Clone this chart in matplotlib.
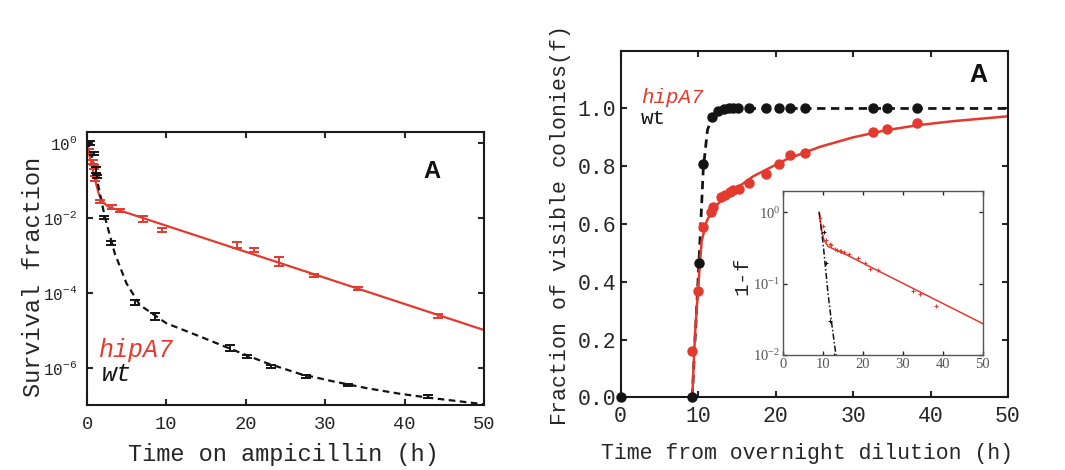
import numpy as np
import matplotlib.pyplot as plt

# monospace (Courier-like) text everywhere, italic f in maths
plt.rcParams['font.family'] = ['Liberation Mono', 'DejaVu Sans']
plt.rcParams['mathtext.fontset'] = 'custom'
plt.rcParams['mathtext.rm'] = 'Liberation Mono'
plt.rcParams['mathtext.it'] = 'Liberation Mono:italic'
plt.rcParams['mathtext.default'] = 'regular'

RED = '#e4392e'
BLK = '#141414'
TXT = '#262626'

# ---------- left panel: survival on ampicillin (values are log10 of survival fraction)
hip_t = [0.3, 0.75, 0.9, 1.0, 1.6, 3.1, 4.2, 7.1, 9.5, 18.9, 21.0, 24.2, 28.6, 34.1, 44.2]
hip_log = [-0.24, -0.51, -0.64, -0.95, -1.57, -1.72, -1.81, -2.04, -2.33, -2.72, -2.86,
           -3.17, -3.54, -3.89, -4.62]
hip_err = [0.06, 0.05, 0.05, 0.06, 0.05, 0.05, 0.04, 0.07, 0.045, 0.08, 0.06, 0.13, 0.035,
           0.05, 0.05]  # half height of error bar, decades

wt_t = [0.34, 0.9, 1.1, 1.2, 2.2, 3.07, 6.0, 8.5, 18.0, 20.1, 23.2, 27.6, 32.9, 43.0]
wt_log = [0.0, -0.28, -0.73, -0.9, -2.0, -2.68, -4.27, -4.64, -5.48, -5.71, -5.97, -6.24,
          -6.46, -6.77]
wt_err = [0.05, 0.04, 0.08, 0.05, 0.04, 0.05, 0.06, 0.09, 0.08, 0.04, 0.05, 0.03, 0.03, 0.03]

hip_fit_t = [0, 0.5, 1.0, 1.5, 2.0, 2.5, 3.0, 4.0, 50]
hip_fit_log = [-0.1, -0.5, -0.98, -1.38, -1.58, -1.68, -1.74, -1.80, -5.0]
wt_fit_t = [0, 0.55, 1.18, 2.23, 3.49, 4.96, 6.64, 10, 14.2, 18.4, 22.6, 26.8, 31, 35.2,
            39.4, 43.6, 50]
wt_fit_log = [0.05, -0.28, -0.91, -1.97, -2.95, -3.75, -4.33, -4.82, -5.17, -5.53, -5.88,
              -6.17, -6.37, -6.55, -6.70, -6.82, -6.98]

surv_ticks = [1, 1e-2, 1e-4, 1e-6]
surv_ticklabels = [r'$\mathregular{10^{0}}$', r'$\mathregular{10^{-2}}$',
                   r'$\mathregular{10^{-4}}$', r'$\mathregular{10^{-6}}$']

# ---------- right panel: fraction of visible colonies
col_wt_t = [0, 9.24, 10.1, 10.66, 11.8, 12.6, 13.3, 14.0, 14.5, 15.2, 16.5, 18.8, 20.5,
            21.8, 23.8, 32.6, 34.4, 38.2]
col_wt_f = [0, 0, 0.464, 0.808, 0.97, 0.99, 0.998, 1.0, 1.0, 1.0, 1.0, 1.0, 1.0, 1.0, 1.0,
            1.0, 1.0, 1.0]
col_hip_t = [9.16, 10.0, 10.66, 11.6, 11.95, 13.0, 13.46, 14.1, 14.5, 15.3, 16.5, 18.8,
             20.5, 21.8, 23.8, 32.6, 34.4, 38.2]
col_hip_f = [0.161, 0.369, 0.588, 0.643, 0.658, 0.692, 0.70, 0.712, 0.718, 0.721, 0.743,
             0.773, 0.808, 0.838, 0.847, 0.920, 0.928, 0.951]

col_wt_fit_t = [9.24, 9.6, 10.1, 10.66, 11.2, 11.8, 12.4, 13.2, 14.0, 50]
col_wt_fit_f = [0, 0.20, 0.464, 0.79, 0.925, 0.97, 0.985, 0.993, 1.0, 1.0]
col_hip_fit_t = [9.24, 9.6, 10.0, 10.45, 11.1, 11.95, 13.7, 17.1, 21.4, 25.7, 30.0, 34.3,
                 38.6, 42.9, 50]
col_hip_fit_f = [0, 0.22, 0.38, 0.54, 0.61, 0.654, 0.70, 0.765, 0.824, 0.867, 0.90, 0.925,
                 0.943, 0.956, 0.973]

# inset: 1-f on log scale (log10 values of the drawn lines)
ins_hip_t = [9.0, 9.6, 10.2, 11.2, 13.2, 15.6, 50]
ins_hip_log = [0, -0.25, -0.39, -0.48, -0.53, -0.59, -1.56]
ins_wt_t = [9.0, 10.0, 11.2, 12.0, 13.2]
ins_wt_log = [0, -0.45, -1.13, -1.5, -2.0]


def style_axes(ax, size, lw=1.5, tlen=4):
    ax.tick_params(which='both', direction='in', top=True, right=True, length=tlen,
                   width=lw, labelsize=size, colors=TXT)
    ax.minorticks_off()
    for s in ax.spines.values():
        s.set_linewidth(lw)
        s.set_color('#1a1a1a')


fig = plt.figure(figsize=(10.65, 4.7), dpi=100)

# ---------------- left
ax1 = fig.add_axes([0.0817, 0.1383, 0.3728, 0.5809])
hip_y = 10 ** np.array(hip_log)
hip_e = np.array(hip_err)
wt_y = 10 ** np.array(wt_log)
wt_e = np.array(wt_err)
ax1.plot(hip_fit_t, 10 ** np.array(hip_fit_log), color=RED, lw=1.6)
ax1.plot(wt_fit_t, 10 ** np.array(wt_fit_log), color=BLK, lw=1.6, ls=(0, (3, 2)))
ax1.errorbar(hip_t, hip_y, yerr=[hip_y - hip_y * 10 ** -hip_e, hip_y * 10 ** hip_e - hip_y],
             fmt='none', ecolor=RED, elinewidth=1.4, capsize=3.5, capthick=1.4)
ax1.errorbar(wt_t, wt_y, yerr=[wt_y - wt_y * 10 ** -wt_e, wt_y * 10 ** wt_e - wt_y],
             fmt='none', ecolor=BLK, elinewidth=1.4, capsize=3.5, capthick=1.4)
ax1.set_yscale('log')
ax1.set_xlim(0, 50)
ax1.set_ylim(1e-7, 10 ** 0.285)
ax1.set_xticks(range(0, 51, 10))
ax1.set_yticks(surv_ticks)
ax1.set_yticklabels(surv_ticklabels)
style_axes(ax1, 13.5)
ax1.minorticks_off()
ax1.tick_params(axis='y', pad=7, labelsize=11.5)
ax1.tick_params(axis='x', pad=8)

fig.text(0.031, 0.41, 'Survival fraction', rotation=90, ha='center', va='center',
         fontsize=17, color=TXT)
fig.text(0.266, 0.034, 'Time on ampicillin (h)', ha='center', va='center',
         fontsize=17, color=TXT)
fig.text(0.092, 0.255, 'hipA7', color=RED, style='italic', fontsize=18,
         ha='left', va='center')
fig.text(0.0958, 0.204, 'wt', color=BLK, style='italic', fontsize=18,
         ha='left', va='center')
fig.text(0.4056, 0.636, 'A', fontfamily='Liberation Sans', fontweight='bold',
         fontsize=17, ha='center', va='center', color='#111111')

# ---------------- right
ax2 = fig.add_axes([0.5828, 0.1547, 0.3637, 0.7374])
ax2.plot(col_wt_fit_t, col_wt_fit_f, color=BLK, lw=2, ls=(0, (3, 2)))
ax2.plot(col_hip_fit_t, col_hip_fit_f, color=RED, lw=1.8)
ax2.plot(col_hip_t, col_hip_f, 'o', color=RED, ms=6.5, clip_on=False, zorder=5)
ax2.plot(col_wt_t, col_wt_f, 'o', color=BLK, ms=6.5, clip_on=False, zorder=6)
ax2.set_xlim(0, 50)
ax2.set_ylim(0, 1.2)
ax2.set_xticks(range(0, 51, 10))
ax2.set_yticks([0, 0.2, 0.4, 0.6, 0.8, 1.0])
ax2.set_yticklabels(['0.0', '0.2', '0.4', '0.6', '0.8', '1.0'])
style_axes(ax2, 15.5)
ax2.tick_params(axis='y', pad=3)
ax2.tick_params(axis='x', pad=6)

fig.text(0.526, 0.517, 'Fraction of visible colonies($f$)', rotation=90, ha='center',
         va='center', fontsize=15.5, color=TXT)
fig.text(0.758, 0.036, 'Time from overnight dilution (h)', ha='center', va='center',
         fontsize=15.5, color=TXT)
fig.text(0.6016, 0.792, 'hipA7', color=RED, style='italic', fontsize=15,
         ha='left', va='center')
fig.text(0.6016, 0.747, 'wt', color=BLK, fontsize=15, ha='left', va='center')
fig.text(0.919, 0.840, 'A', fontfamily='Liberation Sans', fontweight='bold',
         fontsize=18, ha='center', va='center', color='#111111')

# ---------------- inset
ax3 = fig.add_axes([0.7355, 0.2447, 0.1872, 0.3496])
ax3.plot(ins_hip_t, 10 ** np.array(ins_hip_log), color=RED, lw=1.1)
ax3.plot(ins_wt_t, 10 ** np.array(ins_wt_log), color=BLK, lw=1.1, ls=(0, (4, 1.5, 1, 1.5)))
hip_1mf = 1 - np.array(col_hip_f)
ax3.plot(col_hip_t, hip_1mf, '+', color=RED, ms=3, mew=0.8)
wt_1mf = 1 - np.array(col_wt_f[2:6])
ax3.plot(col_wt_t[2:6], wt_1mf, '+', color=BLK, ms=3, mew=0.8)
ax3.set_yscale('log')
ax3.set_xlim(0, 50)
ax3.set_ylim(0.01, 2.0)
ax3.set_xticks(range(0, 51, 10))
ax3.set_yticks([1, 0.1, 0.01])
ax3.set_yticklabels([r'$\mathregular{10^{0}}$', r'$\mathregular{10^{-1}}$',
                     r'$\mathregular{10^{-2}}$'])
style_axes(ax3, 10.5, lw=1.0, tlen=3)
for lab in ax3.get_xticklabels() + ax3.get_yticklabels():
    lab.set_fontfamily('Liberation Serif')
    lab.set_color('#555555')
ax3.tick_params(pad=2)
for s in ax3.spines.values():
    s.set_color('#555555')
fig.text(0.6985, 0.4085, '1-$f$', rotation=90, ha='center', va='center', fontsize=15,
         color=TXT)

fig.savefig('out.png', dpi=100)
